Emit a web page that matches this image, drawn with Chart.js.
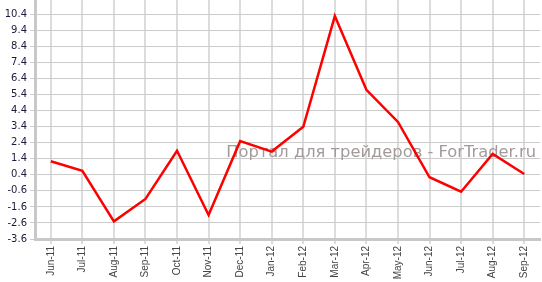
<!DOCTYPE html>
<html>
<head>
<meta charset="utf-8">
<script src="https://cdn.jsdelivr.net/npm/chart.js@4/dist/chart.umd.min.js"></script>
<style>
html,body{margin:0;padding:0;background:#fff;}
#wrap{width:542px;height:282px;position:relative;}
</style>
</head>
<body>
<div id="wrap"><canvas id="c" width="542" height="282"></canvas></div>
<script>
const categories = ['Jun-11','Jul-11','Aug-11','Sep-11','Oct-11','Nov-11','Dec-11','Jan-12','Feb-12','Mar-12','Apr-12','May-12','Jun-12','Jul-12','Aug-12','Sep-12'];
const values = [1.25, 0.65, -2.5, -1.1, 1.9, -2.1, 2.5, 1.85, 3.4, 10.3, 5.7, 3.7, 0.25, -0.65, 1.7, 0.45];
const yTicks = [-3.6, -2.6, -1.6, -0.6, 0.4, 1.4, 2.4, 3.4, 4.4, 5.4, 6.4, 7.4, 8.4, 9.4, 10.4];
const watermark = 'Портал для трейдеров - ForTrader.ru';

const watermarkPlugin = {
  id: 'watermark',
  beforeDatasetsDraw(chart) {
    const ctx = chart.ctx;
    ctx.save();
    ctx.font = '16px "DejaVu Sans", Verdana, sans-serif';
    const w = ctx.measureText(watermark).width;
    const size = 16 * 310 / w;
    ctx.font = size.toFixed(2) + 'px "DejaVu Sans", Verdana, sans-serif';
    ctx.fillStyle = '#a39a9a';
    ctx.textAlign = 'right';
    ctx.textBaseline = 'alphabetic';
    ctx.fillText(watermark, 536, 157);
    ctx.restore();
  }
};

new Chart(document.getElementById('c'), {
  type: 'line',
  data: {
    labels: categories,
    datasets: [{
      data: values,
      borderColor: '#ff0000',
      borderWidth: 2.5,
      pointRadius: 0,
      tension: 0,
      fill: false
    }]
  },
  options: {
    responsive: false,
    animation: false,
    layout: { padding: { top: 0, right: 2, left: 0, bottom: 0 } },
    plugins: { legend: { display: false }, tooltip: { enabled: false } },
    scales: {
      x: {
        offset: true,
        grid: { offset: false, color: '#dcdcdc', lineWidth: 2, tickLength: 5, drawTicks: true },
        border: { color: '#c8c8c8', width: 3 },
        ticks: {
          minRotation: 90, maxRotation: 90, autoSkip: false, padding: 2,
          color: '#444', font: { family: '"Liberation Sans", Arial, sans-serif', size: 10 }
        },
        afterFit(scale) { scale.height = 43; }
      },
      y: {
        min: -3.6,
        max: 11.3,
        grid: { color: '#cccccc', lineWidth: 1, tickLength: 5 },
        border: { color: '#c8c8c8', width: 3 },
        ticks: {
          padding: 3,
          color: '#1a1a3a',
          font: { family: '"DejaVu Sans", Verdana, sans-serif', size: 10 },
          callback: (v) => Number(v).toFixed(1)
        },
        afterBuildTicks(scale) { scale.ticks = yTicks.map(v => ({ value: v })); },
        afterFit(scale) { scale.width = 35; scale.paddingTop = 0; scale.paddingBottom = 0; }
      }
    }
  },
  plugins: [watermarkPlugin]
});
</script>
</body>
</html>
